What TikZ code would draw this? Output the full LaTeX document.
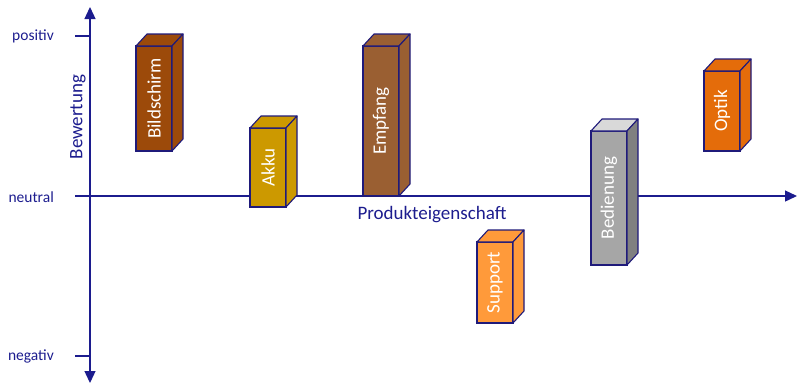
\documentclass[tikz,border=0pt]{standalone}
\usepackage{fontspec}
\setmainfont{Carlito}
\usetikzlibrary{arrows.meta}
\definecolor{axisblue}{HTML}{1C1C8E}
\definecolor{boxedge}{HTML}{1F1A7A}
\definecolor{cBild}{HTML}{9C4A0A}
\definecolor{cAkku}{HTML}{CC9900}
\definecolor{cEmpf}{HTML}{9A5F32}
\definecolor{cSupp}{HTML}{FF9A3A}
\definecolor{cBedF}{HTML}{A6A6A6}
\definecolor{cBedT}{HTML}{D9D9D9}
\definecolor{cBedS}{HTML}{808080}
\definecolor{cOpt}{HTML}{E46C0A}
\newcommand\quader[8]{%
  \node[frontface, fill=#5, minimum height=#4pt, anchor=north west] (#1) at (#2,#3) {};
  \draw[boxline, fill=#6] (#1.north west) -- ++(11,-12) -- ++(36,0) -- (#1.north east) -- cycle;
  \draw[boxline, fill=#7] (#1.north east) -- ++(11,-12) -- ++(0,#4) -- (#1.south east) -- cycle;
  \node[boxlabel] (#1-t) at (#1.center) {#8};
}
\begin{document}
\begin{tikzpicture}[x=1pt,y=-1pt,
  axis/.style={draw=axisblue, line width=1.3pt},
  ticklabel/.style={text=axisblue, font=\fontsize{15.5}{18}\selectfont, inner sep=0pt},
  axtitle/.style={text=axisblue, font=\fontsize{19}{22}\selectfont, inner sep=0pt},
  boxline/.style={draw=boxedge, line width=1.1pt, line join=round},
  frontface/.style={draw=boxedge, line width=1.1pt, minimum width=36pt, inner sep=0pt, outer sep=0pt, rectangle},
  boxlabel/.style={text=white, rotate=90, font=\fontsize{19}{22}\selectfont, inner sep=0pt}]
\useasboundingbox (0,0) rectangle (797,384);
% axes
\coordinate (ytop) at (90,7);
\coordinate (ybot) at (90,383);
\coordinate (xl) at (75,196);
\coordinate (xr) at (797,196);
\coordinate (tp1) at (75,36);
\coordinate (tp2) at (90,36);
\coordinate (tn1) at (75,356);
\coordinate (tn2) at (90,356);
\draw[axis, {Triangle[width=11pt,length=12pt]}-{Triangle[width=11pt,length=12pt]}] (ybot) -- (ytop);
\draw[axis, -{Triangle[width=11pt,length=12pt]}] (xl) -- (xr);
\draw[axis] (tp1) -- (tp2);
\draw[axis] (tn1) -- (tn2);
\node[ticklabel, anchor=east] (lpos) at (54,36) {positiv};
\node[ticklabel, anchor=east] (lneu) at (54,197) {neutral};
\node[ticklabel, anchor=east] (lneg) at (54,356) {negativ};
\node[axtitle, rotate=90] (lbew) at (78,117) {Bewertung};
\node[axtitle] (lprod) at (432,215) {Produkteigenschaft};
% boxes
\quader{bild}{136}{46}{105}{cBild}{cBild}{cBild}{Bildschirm}
\quader{akku}{250}{128}{79}{cAkku}{cAkku}{cAkku}{Akku}
\quader{empf}{363}{46}{150}{cEmpf}{cEmpf}{cEmpf}{Empfang}
\quader{supp}{477}{242}{81}{cSupp}{cSupp}{cSupp}{Support}
\quader{bedi}{591}{131}{134}{cBedF}{cBedT}{cBedS}{Bedienung}
\quader{opti}{704}{71}{80}{cOpt}{cOpt}{cOpt}{Optik}
\end{tikzpicture}
\end{document}
